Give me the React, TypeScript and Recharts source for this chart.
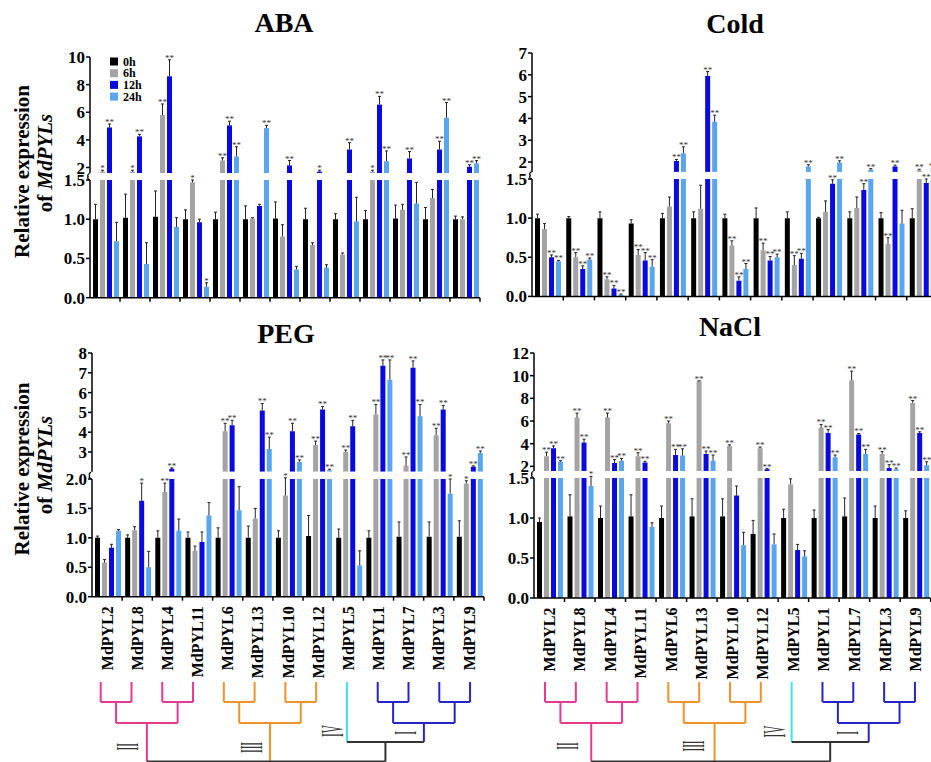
import React from 'react';
import { BarChart, Bar, XAxis, YAxis, ErrorBar, LabelList } from 'recharts';

const FONT = '"Liberation Serif", "Times New Roman", Times, serif';

const genes = ['MdPYL2', 'MdPYL8', 'MdPYL4', 'MdPYL11', 'MdPYL6', 'MdPYL13', 'MdPYL10', 'MdPYL12', 'MdPYL5', 'MdPYL1', 'MdPYL7', 'MdPYL3', 'MdPYL9'];
const times = ['0h', '6h', '12h', '24h'];
const colors = ['#000000', '#a4a4a4', '#0a0ae0', '#5aa6ee'];
const noSig = genes.map(() => '');

// ABA (rows: 0h, 6h, 12h, 24h)
const abaMean = [
  [1.0, 1.02, 1.03, 1.0, 1.0, 1.0, 1.01, 1.0, 1.0, 1.0, 1.01, 1.0, 1.0],
  [1.7, 1.7, 5.8, 1.47, 2.5, 1.01, 0.78, 0.67, 0.55, 1.7, 1.12, 1.27, 1.0],
  [4.9, 4.25, 8.6, 0.96, 5.05, 1.17, 2.15, 1.7, 3.3, 6.55, 2.65, 3.3, 2.05],
  [0.72, 0.43, 0.9, 0.14, 2.8, 4.85, 0.36, 0.38, 0.97, 2.45, 1.2, 5.6, 2.3],
];
const abaErr = [
  [0.19, 0.3, 0.33, 0.12, 0.09, 0.17, 0.21, 0.14, 0.07, 0.11, 0.17, 0.15, 0.04],
  [0.1, 0.1, 0.8, 0.03, 0.2, 0.01, 0.15, 0.03, 0.02, 0.1, 0.07, 0.11, 0.03],
  [0.25, 0.15, 1.2, 0.04, 0.3, 0.02, 0.35, 0.1, 0.5, 0.6, 0.5, 0.6, 0.15],
  [0.24, 0.27, 0.12, 0.05, 0.7, 0.2, 0.04, 0.04, 0.31, 0.75, 0.27, 1.1, 0.2],
];
const abaSig = [
  noSig,
  ['*', '*', '**', '*', '**', '', '', '', '', '*', '', '', ''],
  ['**', '**', '**', '', '**', '', '**', '*', '**', '**', '**', '**', '**'],
  ['', '', '', '*', '**', '**', '', '', '', '**', '', '**', '**'],
];

// Cold
const coldMean = [
  [1.0, 1.0, 1.0, 0.93, 1.0, 1.0, 1.0, 1.0, 1.0, 1.0, 1.0, 1.0, 1.0],
  [0.86, 0.5, 0.22, 0.53, 1.15, 1.12, 0.65, 0.59, 0.4, 1.08, 1.13, 0.67, 1.62],
  [0.5, 0.35, 0.1, 0.46, 2.05, 5.95, 0.2, 0.46, 0.48, 1.44, 1.36, 1.8, 1.45],
  [0.45, 0.47, 0.02, 0.38, 2.4, 3.85, 0.35, 0.5, 1.8, 1.98, 1.65, 0.93, 1.7],
];
const coldErr = [
  [0.05, 0.02, 0.08, 0.05, 0.06, 0.08, 0.05, 0.13, 0.08, 0.01, 0.08, 0.07, 0.12],
  [0.07, 0.06, 0.03, 0.07, 0.12, 0.3, 0.06, 0.09, 0.12, 0.14, 0.14, 0.08, 0.05],
  [0.03, 0.04, 0.04, 0.1, 0.07, 0.2, 0.05, 0.05, 0.07, 0.05, 0.08, 0.06, 0.05],
  [0.01, 0.02, 0.01, 0.09, 0.3, 0.3, 0.07, 0.04, 0.08, 0.08, 0.05, 0.17, 0.05],
];
const coldSig = [
  noSig,
  ['', '**', '**', '**', '', '', '**', '**', '**', '', '', '**', '**'],
  ['**', '**', '**', '**', '**', '**', '**', '**', '**', '**', '**', '**', '**'],
  ['**', '**', '**', '**', '**', '**', '**', '**', '**', '**', '**', '', '**'],
];

// PEG
const pegMean = [
  [1.0, 1.0, 1.0, 1.0, 1.0, 1.0, 1.0, 1.03, 1.0, 1.0, 1.02, 1.02, 1.02],
  [0.58, 1.13, 1.78, 0.78, 4.05, 1.33, 1.72, 3.35, 3.0, 4.9, 2.3, 3.85, 1.92],
  [0.83, 1.63, 2.15, 0.93, 4.35, 5.1, 4.05, 5.15, 4.3, 7.35, 7.25, 5.15, 2.25],
  [1.12, 0.5, 1.12, 1.38, 1.47, 3.15, 2.5, 2.08, 0.53, 6.65, 4.8, 1.75, 2.95],
];
const pegErr = [
  [0.03, 0.05, 0.12, 0.1, 0.17, 0.2, 0.12, 0.35, 0.15, 0.12, 0.25, 0.25, 0.27],
  [0.05, 0.06, 0.15, 0.08, 0.4, 0.17, 0.3, 0.2, 0.1, 0.5, 0.45, 0.35, 0.05],
  [0.06, 0.3, 0.05, 0.17, 0.25, 0.35, 0.4, 0.15, 0.3, 0.3, 0.35, 0.2, 0.05],
  [0.02, 0.27, 0.2, 0.22, 0.4, 0.6, 0.1, 0.05, 0.25, 1.0, 0.6, 0.25, 0.1],
];
const pegSig = [
  noSig,
  ['', '', '**', '', '**', '', '*', '**', '**', '**', '**', '**', '*'],
  ['', '*', '**', '', '**', '**', '**', '**', '**', '**', '**', '**', '**'],
  ['', '', '', '', '', '**', '**', '**', '', '**', '**', '*', '**'],
];

// NaCl
const naclMean = [
  [0.95, 1.02, 1.0, 1.02, 1.0, 1.02, 1.02, 0.8, 1.0, 1.0, 1.02, 1.0, 1.0],
  [2.9, 6.3, 6.3, 2.9, 5.8, 9.5, 3.8, 3.6, 1.42, 5.4, 9.6, 3.1, 7.6],
  [3.6, 4.1, 2.3, 2.35, 3.0, 3.1, 1.28, 1.75, 0.6, 4.95, 4.8, 1.85, 4.95],
  [2.4, 1.4, 2.5, 0.89, 2.95, 2.5, 0.66, 0.67, 0.52, 2.8, 3.1, 1.75, 2.1],
];
const naclErr = [
  [0.05, 0.27, 0.15, 0.27, 0.15, 0.22, 0.22, 0.17, 0.11, 0.1, 0.23, 0.15, 0.09],
  [0.35, 0.4, 0.4, 0.3, 0.2, 0.05, 0.1, 0.1, 0.07, 0.3, 0.8, 0.2, 0.2],
  [0.2, 0.3, 0.3, 0.1, 0.5, 0.25, 0.12, 0.05, 0.07, 0.3, 0.1, 0.3, 0.1],
  [0.1, 0.12, 0.2, 0.05, 0.6, 0.5, 0.16, 0.13, 0.07, 0.2, 0.4, 0.1, 0.3],
];
const naclSig = [
  noSig,
  ['**', '**', '**', '**', '**', '**', '**', '**', '', '**', '**', '**', '**'],
  ['**', '**', '**', '**', '**', '**', '', '**', '', '**', '**', '**', '**'],
  ['**', '*', '**', '', '**', '**', '', '', '', '**', '**', '**', '**'],
];

// split each series into the lower (0..cut) and upper (floor..max) part of the broken axis
function splitRows(means: number[][], errs: number[][], sigs: string[][], cut: number, floor: number) {
  const lower = genes.map((gene, i) => {
    const r: Record<string, any> = { gene };
    means.forEach((m, k) => {
      const v = m[i];
      const inLow = v <= cut;
      r['v' + k] = Math.min(v, cut);
      r['e' + k] = inLow ? [0, errs[k][i]] : null;
      r['l' + k] = inLow ? `${sigs[k][i]}|${errs[k][i]}` : '';
    });
    return r;
  });
  const upper = genes.map((gene, i) => {
    const r: Record<string, any> = { gene };
    means.forEach((m, k) => {
      const v = m[i];
      const inUp = v > floor;
      r['v' + k] = inUp ? v : null;
      r['e' + k] = inUp ? [0, errs[k][i]] : null;
      r['l' + k] = inUp ? `${sigs[k][i]}|${errs[k][i]}` : '';
    });
    return r;
  });
  return { lower, upper };
}

const YW = 60;
const MT = 20;
const MR = 4;
const MB = 12;

function SigMark(props: any) {
  const { value, viewBox, ppu } = props;
  if (!value || !viewBox) return null;
  const [sig, errStr] = String(value).split('|');
  const top = viewBox.y - Number(errStr) * ppu;
  const cx = viewBox.x + viewBox.width / 2;
  return (
    <g>
      <line x1={cx - 1.5} x2={cx + 1.5} y1={top} y2={top} stroke="#222" strokeWidth={1} />
      {sig ? (
        <text x={cx} y={top + 1} textAnchor="middle" fontSize={9} fill="#333" fontFamily={FONT}>{sig}</text>
      ) : null}
    </g>
  );
}

function GeneTick(props: any) {
  const { x, y, payload, band, showLabel } = props;
  const edge = x + band / 2;
  return (
    <g>
      <line x1={edge} x2={edge} y1={y} y2={y + 4} stroke="#000" strokeWidth={1.5} />
      {showLabel ? (
        <text transform={`translate(${x},${y + 9.5}) rotate(-90)`} textAnchor="end" dy="0.35em"
          fontSize={16} fontWeight={700} fontFamily={FONT} fill="#000">{payload.value}</text>
      ) : null}
    </g>
  );
}

type SegProps = {
  rows: any[]; xL: number; plotW: number; top: number; h: number;
  domain: [number, number]; ticks: number[]; decimals: number; axis: 'none' | 'ticks' | 'labels';
};

function Segment({ rows, xL, plotW, top, h, domain, ticks, decimals, axis }: SegProps) {
  const xh = axis === 'labels' ? 85 : axis === 'ticks' ? 6 : 0;
  const ppu = h / (domain[1] - domain[0]);
  const band = plotW / genes.length;
  return (
    <div style={{ position: 'absolute', left: xL - YW, top: top - MT }}>
      <BarChart width={YW + plotW + MR} height={MT + h + xh + MB} data={rows}
        margin={{ top: MT, right: MR, left: 0, bottom: MB }} barCategoryGap={3} barGap={2}>
        <XAxis dataKey="gene" hide={axis === 'none'} height={xh} interval={0}
          axisLine={{ stroke: '#000', strokeWidth: 1.5 }} tickLine={false} tickSize={0} tickMargin={0}
          tick={(p: any) => <GeneTick {...p} band={band} showLabel={axis === 'labels'} />} />
        <YAxis type="number" domain={domain} ticks={ticks} allowDataOverflow interval={0} width={YW}
          tickFormatter={(v: number) => v.toFixed(decimals)}
          axisLine={{ stroke: '#000', strokeWidth: 1.5 }} tickLine={{ stroke: '#000', strokeWidth: 1.5 }}
          tickSize={4} tickMargin={1}
          tick={{ fill: '#000', fontSize: 17, fontWeight: 700, fontFamily: FONT }} />
        {times.map((t, k) => (
          <Bar key={t} dataKey={'v' + k} fill={colors[k]} isAnimationActive={false}>
            <ErrorBar dataKey={'e' + k} direction="y" width={0} stroke="#222" strokeWidth={1} />
            <LabelList dataKey={'l' + k} content={(p: any) => <SigMark {...p} ppu={ppu} />} />
          </Bar>
        ))}
      </BarChart>
    </div>
  );
}

const panels = [
  { name: 'ABA', tx: 284, ty: 32, xL: 90, plotW: 390, upTop: 57.3, upH: 116, upDomain: [1.6, 10], upTicks: [2, 4, 6, 8, 10],
    loTop: 180, loH: 117.7, loDomain: [0, 1.5], loTicks: [0, 0.5, 1, 1.5], axis: 'ticks', means: abaMean, errs: abaErr, sigs: abaSig },
  { name: 'Cold', tx: 735, ty: 33, xL: 532, plotW: 406, upTop: 52.7, upH: 118.9, upDomain: [1.55, 7], upTicks: [2, 3, 4, 5, 6, 7],
    loTop: 179.3, loH: 117.4, loDomain: [0, 1.5], loTicks: [0, 0.5, 1, 1.5], axis: 'ticks', means: coldMean, errs: coldErr, sigs: coldSig },
  { name: 'PEG', tx: 286, ty: 343, xL: 91.5, plotW: 392, upTop: 353.3, upH: 118.8, upDomain: [2, 8], upTicks: [3, 4, 5, 6, 7, 8],
    loTop: 479, loH: 117.7, loDomain: [0, 2], loTicks: [0, 0.5, 1, 1.5, 2], axis: 'labels', means: pegMean, errs: pegErr, sigs: pegSig },
  { name: 'NaCl', tx: 730, ty: 336, xL: 533.8, plotW: 396.7, upTop: 353.3, upH: 117.9, upDomain: [1.6, 12], upTicks: [2, 4, 6, 8, 10, 12],
    loTop: 477.5, loH: 120, loDomain: [0, 1.5], loTicks: [0, 0.5, 1, 1.5], axis: 'labels', means: naclMean, errs: naclErr, sigs: naclSig },
];

// dendrogram of the 13 genes (same order as the bars)
const PINK = '#e6398f';
const ORANGE = '#f0922c';
const CYAN = '#3fe2e8';
const BLUE = '#2626c8';
const DARK = '#333333';
const tree: any = {
  level: 4, color: DARK, kids: [
    { level: 2, color: PINK, kids: [{ level: 1, kids: [{ leaf: 0 }, { leaf: 1 }] }, { level: 1, kids: [{ leaf: 2 }, { leaf: 3 }] }] },
    { level: 2, color: ORANGE, kids: [{ level: 1, kids: [{ leaf: 4 }, { leaf: 5 }] }, { level: 1, kids: [{ leaf: 6 }, { leaf: 7 }] }] },
    { level: 3, color: DARK, kids: [
      { leaf: 8, color: CYAN },
      { level: 2, color: BLUE, kids: [{ level: 1, kids: [{ leaf: 9 }, { leaf: 10 }] }, { level: 1, kids: [{ leaf: 11 }, { leaf: 12 }] }] },
    ] },
  ],
};
const levelY = [682, 702, 723, 742, 761.5];

function drawTree(node: any, leafX: (i: number) => number, parentY: number | null, parentColor: string, out: React.ReactNode[]): number {
  const color = node.color ?? parentColor;
  if (node.leaf !== undefined) {
    const x = leafX(node.leaf);
    out.push(<line key={out.length} x1={x} x2={x} y1={levelY[0]} y2={parentY ?? levelY[0]} stroke={color} strokeWidth={2} />);
    return x;
  }
  const y = levelY[node.level];
  const xs = node.kids.map((k: any) => drawTree(k, leafX, y, color, out));
  out.push(<line key={out.length} x1={xs[0]} x2={xs[xs.length - 1]} y1={y} y2={y} stroke={color} strokeWidth={2} />);
  const x = (xs[0] + xs[xs.length - 1]) / 2;
  if (parentY !== null) out.push(<line key={out.length} x1={x} x2={x} y1={y} y2={parentY} stroke={color} strokeWidth={2} />);
  return x;
}

const roman = ['II', 'III', 'IV', 'I'];

function Dendro({ x0, step, marks }: { x0: number; step: number; marks: number[][] }) {
  const out: React.ReactNode[] = [];
  drawTree(tree, (i) => x0 + i * step, null, DARK, out);
  return (
    <g>
      {out}
      {roman.map((r, i) => (
        <text key={r} transform={`translate(${marks[i][0]},${marks[i][1]}) rotate(-90) scale(0.36,1)`}
          textAnchor="middle" dy="0.33em" fontSize={31} fontFamily={FONT} fill="#333">{r}</text>
      ))}
    </g>
  );
}

function YLabel({ x, y1, y2 }: { x: number; y1: number; y2: number }) {
  const st = { fontSize: 21, fontWeight: 700, fontFamily: FONT, fill: '#000' } as const;
  return (
    <g>
      <text transform={`translate(${x},${y1}) rotate(-90)`} textAnchor="middle" {...st}>Relative expression</text>
      <text transform={`translate(${x + 23},${y2}) rotate(-90)`} textAnchor="middle" {...st}>
        of <tspan fontStyle="italic">MdPYLs</tspan>
      </text>
    </g>
  );
}

export default function App() {
  return (
    <div style={{ position: 'absolute', left: 0, top: 0, width: 931, height: 762, overflow: 'hidden', background: '#fff' }}>
      {panels.map((p) => {
        const { lower, upper } = splitRows(p.means, p.errs, p.sigs, p.loDomain[1], p.upDomain[0]);
        return (
          <React.Fragment key={p.name}>
            <Segment rows={upper} xL={p.xL} plotW={p.plotW} top={p.upTop} h={p.upH}
              domain={p.upDomain as [number, number]} ticks={p.upTicks} decimals={0} axis="none" />
            <Segment rows={lower} xL={p.xL} plotW={p.plotW} top={p.loTop} h={p.loH}
              domain={p.loDomain as [number, number]} ticks={p.loTicks} decimals={1} axis={p.axis as any} />
          </React.Fragment>
        );
      })}
      <svg width={931} height={762} style={{ position: 'absolute', left: 0, top: 0, pointerEvents: 'none' }}>
        {panels.map((p) => {
          const yb = p.upTop + p.upH;
          return (
            <g key={p.name}>
              <text x={p.tx} y={p.ty} textAnchor="middle" fontSize={28} fontWeight={700} fontFamily={FONT} fill="#000">{p.name}</text>
              <path d={`M${p.xL - 0.5},${yb} q-3,2 -1,4 M${p.xL - 0.5},${p.loTop} q-3,-2 -1,-4`} stroke="#000" strokeWidth={1.3} fill="none" />
            </g>
          );
        })}
        <YLabel x={29} y1={171.5} y2={163} />
        <YLabel x={29} y1={469} y2={465} />
        {times.map((t, k) => (
          <g key={t}>
            <rect x={110} y={57.5 + k * 11.7} width={8} height={8} fill={colors[k]} />
            <text x={123} y={65.5 + k * 11.7} fontSize={12} fontWeight={700} fontFamily={FONT} fill="#000">{t}</text>
          </g>
        ))}
        <Dendro x0={100.7} step={30.78} marks={[[127.5, 746.7], [252, 747.5], [332.5, 731], [405.5, 733]]} />
        <Dendro x0={545} step={30.83} marks={[[567.5, 746], [694, 746], [775, 731.5], [848, 733]]} />
      </svg>
    </div>
  );
}
